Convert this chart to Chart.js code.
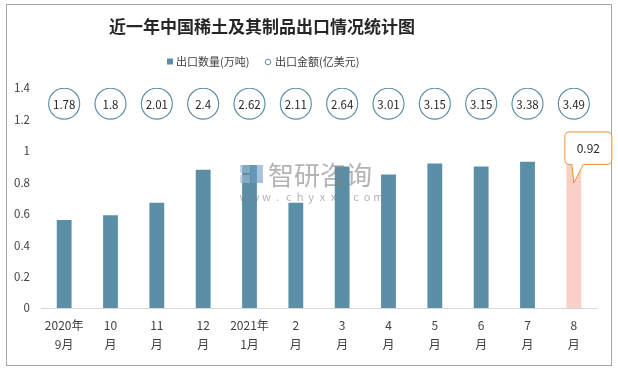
<!DOCTYPE html>
<html>
<head>
<meta charset="utf-8">
<script src="https://cdn.jsdelivr.net/npm/chart.js@4.4.1/dist/chart.umd.min.js"></script>
<style>
  html, body { margin: 0; padding: 0; background: #fff; }
  #wrap { width: 618px; height: 370px; }
</style>
</head>
<body>
<div id="wrap"><canvas id="chart" width="618" height="370"></canvas></div>
<script>
// chart data
const chartTitle = '近一年中国稀土及其制品出口情况统计图';
const months = [['2020年', '9月'], ['10', '月'], ['11', '月'], ['12', '月'], ['2021年', '1月'],
    ['2', '月'], ['3', '月'], ['4', '月'], ['5', '月'], ['6', '月'], ['7', '月'], ['8', '月']];
const volumeLabel = '出口数量(万吨)';
const valueLabel = '出口金额(亿美元)';
const exportVolume = [0.56, 0.59, 0.67, 0.88, 0.91, 0.67, 0.90, 0.85, 0.92, 0.90, 0.93, 0.92];
const exportValue = [1.78, 1.8, 2.01, 2.4, 2.62, 2.11, 2.64, 3.01, 3.15, 3.15, 3.38, 3.49];
const yTicks = [0, 0.2, 0.4, 0.6, 0.8, 1, 1.2, 1.4];

const barBlue = '#5b8fa7';
const barPink = '#f8d0c7';
const ringColor = '#5f8ea9';
const cjk = '"Noto Sans CJK SC", "Noto Sans", sans-serif';
const lastIdx = exportVolume.length - 1;
const valueRow = 1.3; // the row where the value circles sit

// frame, title, legend, circle labels, callout, watermark
const decorPlugin = {
    id: 'decor',
    beforeDraw(chart) {
        const ctx = chart.ctx;
        ctx.save();
        ctx.fillStyle = '#fff';
        ctx.fillRect(0, 0, chart.width, chart.height);
        ctx.strokeStyle = '#a6a6a6';
        ctx.lineWidth = 1;
        ctx.strokeRect(6.5, 4.5, 605, 361);

        ctx.fillStyle = '#262626';
        ctx.font = 'bold 17px ' + cjk;
        ctx.textAlign = 'center';
        ctx.textBaseline = 'middle';
        ctx.fillText(chartTitle, 262, 27);

        // legend
        ctx.font = '11px ' + cjk;
        ctx.textAlign = 'left';
        ctx.fillStyle = barBlue;
        ctx.fillRect(167, 58.5, 6, 6);
        ctx.fillStyle = '#404040';
        ctx.fillText(volumeLabel, 176, 62);
        ctx.strokeStyle = ringColor;
        ctx.beginPath();
        ctx.arc(268, 62, 2.8, 0, Math.PI * 2);
        ctx.stroke();
        ctx.fillText(valueLabel, 275, 62);
        ctx.restore();
    },
    afterDatasetsDraw(chart) {
        const ctx = chart.ctx;
        ctx.save();
        // watermark
        ctx.globalAlpha = 0.6;
        ctx.fillStyle = '#9fbad6';
        ctx.fillRect(240, 165, 10, 8);
        ctx.fillStyle = '#6f9bc8';
        ctx.fillRect(251, 165, 12, 18);
        ctx.fillStyle = '#9fbad6';
        ctx.fillRect(240, 175, 10, 8);
        ctx.fillStyle = '#808080';
        ctx.font = '26px ' + cjk;
        ctx.textBaseline = 'middle';
        ctx.textAlign = 'left';
        ctx.fillText('智研咨询', 268, 175);
        ctx.font = '11px ' + cjk;
        ctx.textAlign = 'center';
        'www.chyxx.com'.split('').forEach((ch, i) => ctx.fillText(ch, 244 + i * 11.2, 197));
        ctx.globalAlpha = 1;

        // circle labels
        const ringMeta = chart.getDatasetMeta(1);
        ctx.fillStyle = '#262626';
        ctx.font = '11.5px ' + cjk;
        ringMeta.data.forEach((pt, i) => ctx.fillText(String(exportValue[i]), pt.x, pt.y + 0.5));

        // callout on last bar
        const bar = chart.getDatasetMeta(0).data[lastIdx];
        const x = bar.x, y = bar.y;
        const l = x - 9, r = x + 38, t = y - 31.5, b = y + 1, rad = 5;
        ctx.beginPath();
        ctx.moveTo(l + rad, t);
        ctx.lineTo(r - rad, t);
        ctx.quadraticCurveTo(r, t, r, t + rad);
        ctx.lineTo(r, b - rad);
        ctx.quadraticCurveTo(r, b, r - rad, b);
        ctx.lineTo(x + 9.5, b);
        ctx.lineTo(x, y + 19.5);
        ctx.lineTo(x - 2, b);
        ctx.lineTo(l + rad, b);
        ctx.quadraticCurveTo(l, b, l, b - rad);
        ctx.lineTo(l, t + rad);
        ctx.quadraticCurveTo(l, t, l + rad, t);
        ctx.closePath();
        ctx.fillStyle = '#fff';
        ctx.fill();
        ctx.strokeStyle = '#e8913a';
        ctx.lineWidth = 1;
        ctx.stroke();
        ctx.fillStyle = '#262626';
        ctx.font = '12px ' + cjk;
        ctx.fillText(String(exportVolume[lastIdx]), (l + r) / 2, (t + b) / 2);
        ctx.restore();
    }
};

const ctx = document.getElementById('chart').getContext('2d');
new Chart(ctx, {
    data: {
        labels: months,
        datasets: [
            {
                type: 'bar',
                label: volumeLabel,
                data: exportVolume,
                backgroundColor: exportVolume.map((v, i) => i === lastIdx ? barPink : barBlue),
                categoryPercentage: 1,
                barPercentage: 0.32,
                order: 2
            },
            {
                type: 'line',
                label: valueLabel,
                data: exportValue.map(() => valueRow),
                showLine: false,
                pointRadius: 15.5,
                pointHoverRadius: 15.5,
                pointBackgroundColor: '#fff',
                pointBorderColor: ringColor,
                pointBorderWidth: 1.2,
                order: 1
            }
        ]
    },
    options: {
        responsive: false,
        animation: false,
        layout: { padding: { top: 88, right: 21, bottom: 0, left: 0 } },
        plugins: {
            legend: { display: false },
            title: { display: false },
            tooltip: { enabled: false }
        },
        scales: {
            x: {
                grid: { display: false, drawTicks: false },
                border: { display: true, color: '#d9d9d9', width: 1 },
                ticks: {
                    color: '#404040',
                    font: { family: cjk, size: 12, lineHeight: 1.6 },
                    padding: 8,
                    maxRotation: 0,
                    autoSkip: false
                },
                afterFit: (scale) => { scale.height = 62; }
            },
            y: {
                min: 0,
                max: 1.4,
                afterBuildTicks: (scale) => { scale.ticks = yTicks.map(v => ({ value: v })); },
                grid: { display: false, drawTicks: false },
                border: { display: false },
                ticks: {
                    color: '#404040',
                    font: { family: cjk, size: 11.5 },
                    padding: 11,
                    callback: (v) => String(+Number(v).toFixed(1))
                },
                afterFit: (scale) => { scale.width = 41; }
            }
        }
    },
    plugins: [decorPlugin]
});
</script>
</body>
</html>
